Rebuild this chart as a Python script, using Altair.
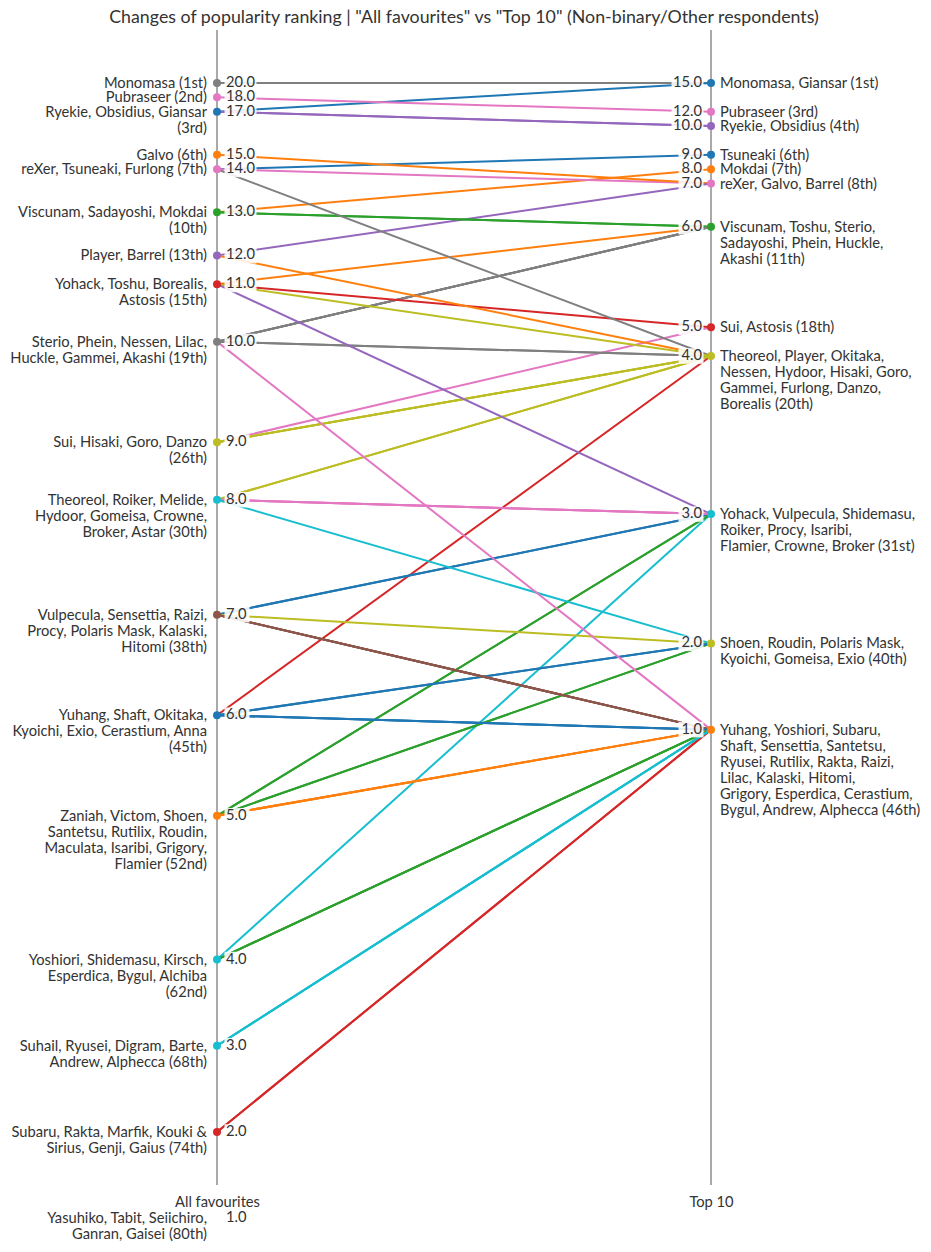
import altair as alt
import pandas as pd

FONT = "Lato"
TEXT = "#333333"
BLUE, ORANGE, GREEN, RED, PURPLE = "#1f77b4", "#ff7f0e", "#2ca02c", "#d62728", "#9467bd"
BROWN, PINK, GRAY, OLIVE, CYAN = "#8c564b", "#e377c2", "#7f7f7f", "#bcbd22", "#17becf"

# ---- "All favourites" side -------------------------------------------------
left_values = [20, 18, 17, 15, 14, 13, 12, 11, 10, 9, 8, 7, 6, 5, 4, 3, 2, 1]
left_ranks = [1, 2, 3, 6, 7, 10, 13, 15, 19, 26, 30, 38, 45, 52, 62, 68, 74, 80]
left_labels = [
    ["Monomasa (1st)"],
    ["Pubraseer (2nd)"],
    ["Ryekie, Obsidius, Giansar", "(3rd)"],
    ["Galvo (6th)"],
    ["reXer, Tsuneaki, Furlong (7th)"],
    ["Viscunam, Sadayoshi, Mokdai", "(10th)"],
    ["Player, Barrel (13th)"],
    ["Yohack, Toshu, Borealis,", "Astosis (15th)"],
    ["Sterio, Phein, Nessen, Lilac,", "Huckle, Gammei, Akashi (19th)"],
    ["Sui, Hisaki, Goro, Danzo", "(26th)"],
    ["Theoreol, Roiker, Melide,", "Hydoor, Gomeisa, Crowne,", "Broker, Astar (30th)"],
    ["Vulpecula, Sensettia, Raizi,", "Procy, Polaris Mask, Kalaski,", "Hitomi (38th)"],
    ["Yuhang, Shaft, Okitaka,", "Kyoichi, Exio, Cerastium, Anna", "(45th)"],
    ["Zaniah, Victom, Shoen,", "Santetsu, Rutilix, Roudin,", "Maculata, Isaribi, Grigory,", "Flamier (52nd)"],
    ["Yoshiori, Shidemasu, Kirsch,", "Esperdica, Bygul, Alchiba", "(62nd)"],
    ["Suhail, Ryusei, Digram, Barte,", "Andrew, Alphecca (68th)"],
    ["Subaru, Rakta, Marfik, Kouki &", "Sirius, Genji, Gaius (74th)"],
    ["Yasuhiko, Tabit, Seiichiro,", "Ganran, Gaisei (80th)"],
]
left_dot_colors = [GRAY, PINK, BLUE, ORANGE, PINK, GREEN, PURPLE, RED, GRAY,
                   OLIVE, CYAN, BROWN, BLUE, ORANGE, CYAN, CYAN, RED, ""]

# ---- "Top 10" side ---------------------------------------------------------
right_values = [15, 12, 10, 9, 8, 7, 6, 5, 4, 3, 2, 1]
right_ranks = [1, 3, 4, 6, 7, 8, 11, 18, 20, 31, 40, 46]
right_labels = [
    ["Monomasa, Giansar (1st)"],
    ["Pubraseer (3rd)"],
    ["Ryekie, Obsidius (4th)"],
    ["Tsuneaki (6th)"],
    ["Mokdai (7th)"],
    ["reXer, Galvo, Barrel (8th)"],
    ["Viscunam, Toshu, Sterio,", "Sadayoshi, Phein, Huckle,", "Akashi (11th)"],
    ["Sui, Astosis (18th)"],
    ["Theoreol, Player, Okitaka,", "Nessen, Hydoor, Hisaki, Goro,", "Gammei, Furlong, Danzo,", "Borealis (20th)"],
    ["Yohack, Vulpecula, Shidemasu,", "Roiker, Procy, Isaribi,", "Flamier, Crowne, Broker (31st)"],
    ["Shoen, Roudin, Polaris Mask,", "Kyoichi, Gomeisa, Exio (40th)"],
    ["Yuhang, Yoshiori, Subaru,", "Shaft, Sensettia, Santetsu,", "Ryusei, Rutilix, Rakta, Raizi,",
     "Lilac, Kalaski, Hitomi,", "Grigory, Esperdica, Cerastium,", "Bygul, Andrew, Alphecca (46th)"],
]
right_dot_colors = [BLUE, PINK, PURPLE, BLUE, ORANGE, PINK, GREEN, RED, OLIVE, CYAN, OLIVE, ORANGE]

# ---- characters present on both sides --------------------------------------
characters = ["Monomasa", "Giansar", "Pubraseer", "Ryekie", "Obsidius", "Tsuneaki", "Mokdai",
              "reXer", "Galvo", "Barrel", "Viscunam", "Toshu", "Sterio", "Sadayoshi", "Phein",
              "Huckle", "Akashi", "Sui", "Astosis", "Theoreol", "Player", "Okitaka", "Nessen",
              "Hydoor", "Hisaki", "Goro", "Gammei", "Furlong", "Danzo", "Borealis", "Yohack",
              "Vulpecula", "Shidemasu", "Roiker", "Procy", "Isaribi", "Flamier", "Crowne",
              "Broker", "Shoen", "Roudin", "Polaris Mask", "Kyoichi", "Gomeisa", "Exio",
              "Yuhang", "Yoshiori", "Subaru", "Shaft", "Sensettia", "Santetsu", "Ryusei",
              "Rutilix", "Rakta", "Raizi", "Lilac", "Kalaski", "Hitomi", "Grigory",
              "Esperdica", "Cerastium", "Bygul", "Andrew", "Alphecca"]
fav_counts = [20, 17, 18, 17, 17, 14, 13, 14, 15, 12, 13, 11, 10, 13, 10, 10, 10, 9, 11, 8, 12,
              6, 10, 8, 9, 9, 10, 14, 9, 11, 11, 7, 4, 8, 7, 5, 5, 8, 8, 5, 5, 7, 6, 8, 6,
              6, 4, 2, 6, 7, 5, 3, 5, 2, 7, 10, 7, 7, 5, 4, 6, 4, 3, 3]
top10_counts = [15, 15, 12, 10, 10, 9, 8, 7, 7, 7, 6, 6, 6, 6, 6, 6, 6, 5, 5, 4, 4, 4, 4, 4,
                4, 4, 4, 4, 4, 4, 3, 3, 3, 3, 3, 3, 3, 3, 3, 2, 2, 2, 2, 2, 2,
                1, 1, 1, 1, 1, 1, 1, 1, 1, 1, 1, 1, 1, 1, 1, 1, 1, 1, 1]
line_colors = [GRAY, BLUE, PINK, PURPLE, PURPLE, BLUE, ORANGE, PINK, ORANGE, PURPLE, GREEN,
               ORANGE, GRAY, GREEN, GRAY, GRAY, GRAY, PINK, RED, OLIVE, ORANGE, RED, GRAY,
               OLIVE, OLIVE, OLIVE, GRAY, GRAY, OLIVE, OLIVE, PURPLE, BLUE, CYAN, PINK, BLUE,
               GREEN, GREEN, PINK, PINK, GREEN, GREEN, OLIVE, BLUE, CYAN, BLUE,
               BLUE, GREEN, RED, BLUE, BROWN, ORANGE, CYAN, ORANGE, RED, BROWN, PINK, BROWN,
               BROWN, ORANGE, GREEN, BLUE, GREEN, CYAN, CYAN]

TITLE = 'Changes of popularity ranking | "All favourites" vs "Top 10" (Non-binary/Other respondents)'

# ---- tables ---------------------------------------------------------------
lrank = dict(zip(left_values, left_ranks))
rrank = dict(zip(right_values, right_ranks))

rows = []
for name, f, t in zip(characters, fav_counts, top10_counts):
    rows.append({"name": name, "side": 0, "rank": lrank[f]})
    rows.append({"name": name, "side": 1, "rank": rrank[t]})
lines_df = pd.DataFrame(rows)

groups = []
for v, r, lab, c in zip(left_values, left_ranks, left_labels, left_dot_colors):
    groups.append({"side": 0, "rank": r, "val": f"{v:.1f}", "n": len(f"{v:.1f}"),
                   "label": "\n".join(lab), "dot": c})
for v, r, lab, c in zip(right_values, right_ranks, right_labels, right_dot_colors):
    groups.append({"side": 1, "rank": r, "val": f"{v:.1f}", "n": len(f"{v:.1f}"),
                   "label": "\n".join(lab), "dot": c})
groups_df = pd.DataFrame(groups)
sides_df = pd.DataFrame({"side": [0, 1]})

FS = 14.7
W, H = 494, 1155
xs = alt.Scale(domain=[0, 1], nice=False, zero=False)
ys = alt.Scale(domain=[-2.688, 77.69], reverse=True, nice=False, zero=False)
X = alt.X("side:Q", scale=xs,
          axis=alt.Axis(values=[0, 1], title=None, domain=False, ticks=False, grid=False,
                        labelFlush=False, labelFont=FONT, labelFontSize=FS, labelColor=TEXT,
                        labelPadding=9,
                        labelExpr="datum.value == 0 ? 'All favourites' : 'Top 10'"))
Y = alt.Y("rank:Q", scale=ys, axis=None)

rules = alt.Chart(sides_df).mark_rule(color="#555555", strokeWidth=1).encode(x=X)

lines = alt.Chart(lines_df).mark_line(strokeWidth=2).encode(
    x=X, y=Y, detail="name:N",
    color=alt.Color("name:N", scale=alt.Scale(domain=characters, range=line_colors), legend=None),
)

box4 = "M-1,-0.5L1,-0.5L1,0.5L-1,0.5Z"
box3 = "M-1,-0.62L1,-0.62L1,0.62L-1,0.62Z"

def boxes(side, n, shape, size, off):
    return alt.Chart(groups_df).transform_filter(
        f"datum.side == {side} && datum.n == {n} && datum.dot != ''"
    ).mark_point(shape=shape, filled=True, color="white", opacity=0.88, size=size,
                 xOffset=off).encode(x=X, y=Y)

w4, w3 = 32, 25
box_layers = [
    boxes(0, 4, box4, w4 * w4, 9 + w4 / 2 - 1.5),
    boxes(0, 3, box3, w3 * w3, 9 + w3 / 2 - 1.5),
    boxes(1, 4, box4, w4 * w4, -(9 + w4 / 2 - 1.5)),
    boxes(1, 3, box3, w3 * w3, -(9 + w3 / 2 - 1.5)),
]

val_left = alt.Chart(groups_df).transform_filter("datum.side == 0").mark_text(
    align="left", baseline="middle", dx=9, font=FONT, fontSize=FS, color=TEXT
).encode(x=X, y=Y, text="val:N")
val_right = alt.Chart(groups_df).transform_filter("datum.side == 1").mark_text(
    align="right", baseline="middle", dx=-9, font=FONT, fontSize=FS, color=TEXT
).encode(x=X, y=Y, text="val:N")

dots = alt.Chart(groups_df).transform_filter("datum.dot != ''").mark_circle(
    size=64, opacity=1
).encode(x=X, y=Y, color=alt.Color("dot:N", scale=None))

lab_left = alt.Chart(groups_df).transform_filter("datum.side == 0").mark_text(
    align="right", baseline="top", dx=-10, dy=-7, lineBreak="\n", lineHeight=16,
    font=FONT, fontSize=FS, color=TEXT
).encode(x=X, y=Y, text="label:N")
lab_right = alt.Chart(groups_df).transform_filter("datum.side == 1").mark_text(
    align="left", baseline="top", dx=9, dy=-7, lineBreak="\n", lineHeight=16,
    font=FONT, fontSize=FS, color=TEXT
).encode(x=X, y=Y, text="label:N")

chart = alt.layer(
    rules, lines, *box_layers, val_left, val_right, dots, lab_left, lab_right
).properties(
    width=W, height=H,
    title=alt.TitleParams(TITLE, font=FONT, fontSize=17.8, fontWeight="normal", color=TEXT,
                          anchor="middle", offset=3),
    autosize=alt.AutoSizeParams(type="none"),
    padding={"left": 209, "top": 22, "right": 212, "bottom": 60},
).configure_view(stroke=None)

chart.save("out.html", embed_options={"renderer": "svg", "actions": False})
